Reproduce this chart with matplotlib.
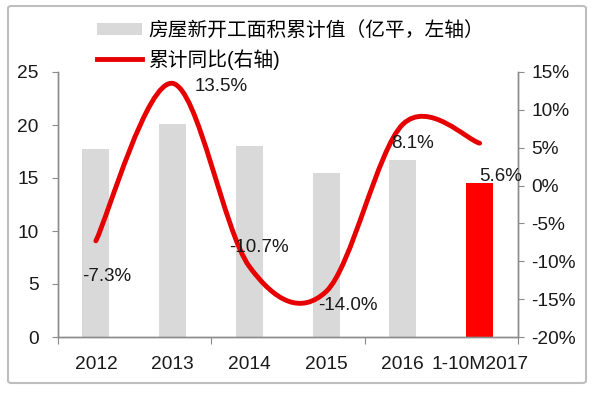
import matplotlib
matplotlib.use("Agg")
import matplotlib.pyplot as plt
from matplotlib.path import Path
from matplotlib.patches import PathPatch, Patch, FancyBboxPatch
from matplotlib.lines import Line2D
from matplotlib.ticker import FixedLocator, FuncFormatter

plt.rcParams['font.family'] = ['Liberation Sans', 'Noto Sans CJK SC', 'DejaVu Sans']

categories = ['2012', '2013', '2014', '2015', '2016', '1-10M2017']
area = [17.7, 20.1, 18.0, 15.5, 16.7, 14.5]          # 亿平
yoy = [-7.3, 13.5, -10.7, -14.0, 8.1, 5.6]            # %
yoy_labels = ['-7.3%', '13.5%', '-10.7%', '-14.0%', '8.1%', '5.6%']
left_ticks = [0, 5, 10, 15, 20, 25]
right_ticks = [-20, -15, -10, -5, 0, 5, 10, 15]
legend_bar = '房屋新开工面积累计值（亿平，左轴）'
legend_line = '累计同比(右轴)'

W, H = 593, 394
fig = plt.figure(figsize=(W / 100, H / 100), dpi=100)
ax = fig.add_axes([57.5 / W, 1 - 337 / H, (518 - 57.5) / W, (337 - 72) / H])
ax2 = ax.twinx()

x = list(range(len(categories)))
colors = ['#D9D9D9'] * (len(categories) - 1) + ['#FF0000']
ax.bar(x, area, width=0.35, color=colors, zorder=1)
ax.set_xlim(-0.5, len(categories) - 0.5)
ax.set_ylim(0, 25)
ax.set_yticks(left_ticks)
ax2.set_ylim(-20, 15)
ax2.set_yticks(right_ticks)
ax2.yaxis.set_major_formatter(FuncFormatter(lambda v, p: f'{int(v)}%'))

# x ticks: marks at every second boundary, labels at centres
ax.xaxis.set_major_locator(FixedLocator([-0.5, 1.5, 3.5, 5.5]))
ax.xaxis.set_major_formatter(FuncFormatter(lambda v, p: ''))
ax.xaxis.set_minor_locator(FixedLocator(x))
ax.set_xticklabels(categories, minor=True)

axis_col = '#8C8C8C'
lab_col = '#1A1A1A'
fs = 13.8
for a in (ax, ax2):
    a.spines['top'].set_visible(False)
    for s in ('left', 'right', 'bottom'):
        a.spines[s].set_color(axis_col)
        a.spines[s].set_linewidth(1.0)
    a.tick_params(which='major', direction='out', length=4.5, color=axis_col,
                  labelsize=fs, labelcolor=lab_col)
ax.tick_params(axis='x', which='major', length=5)
ax.tick_params(axis='x', which='minor', length=0, pad=14, labelsize=fs, labelcolor=lab_col)
ax.tick_params(axis='y', pad=9)
ax2.tick_params(axis='y', pad=5)

# smoothed line (Excel-style Bezier through the points)
pts = list(zip(x, yoy))
verts = [pts[0]]
codes = [Path.MOVETO]
n = len(pts)
for i in range(n - 1):
    p0 = pts[i - 1] if i > 0 else pts[i]
    p1 = pts[i]
    p2 = pts[i + 1]
    p3 = pts[i + 2] if i + 2 < n else pts[i + 1]
    c1 = (p1[0] + (p2[0] - p0[0]) / 6, p1[1] + (p2[1] - p0[1]) / 6)
    c2 = (p2[0] - (p3[0] - p1[0]) / 6, p2[1] - (p3[1] - p1[1]) / 6)
    verts += [c1, c2, p2]
    codes += [Path.CURVE4] * 3
path = Path(verts, codes)
ax2.add_patch(PathPatch(path, facecolor='none', edgecolor='#E60000', lw=3.5,
                        capstyle='round', joinstyle='round', zorder=3))

offsets = [(8, -26), (35, -2), (7, 14), (16, -10), (7, -14), (15, -24)]
for xi, v, lab, off in zip(x, yoy, yoy_labels, offsets):
    ax2.annotate(lab, xy=(xi, v), xytext=off, textcoords='offset points',
                 ha='center', va='center', fontsize=13.5, color=lab_col, zorder=4)

handles = [Patch(facecolor='#D9D9D9', edgecolor='none'),
           Line2D([0], [0], color='#E60000', lw=3.5)]
fig.legend(handles, [legend_bar, legend_line], loc='upper left',
           bbox_to_anchor=(97 / W, 1 - 21 / H), frameon=False, fontsize=14.2,
           handlelength=2.3, handleheight=0.55, handletextpad=0.3, labelspacing=0.45,
           borderaxespad=0, borderpad=0)

fig.patches.append(FancyBboxPatch((8 / W, 1 - 383 / H), (586 - 8) / W, (383 - 6) / H,
                                  boxstyle='round,pad=0,rounding_size=0.006',
                                  transform=fig.transFigure, facecolor='none',
                                  edgecolor='#BEBEBE', lw=1.5))

fig.savefig('out.png', dpi=100)
